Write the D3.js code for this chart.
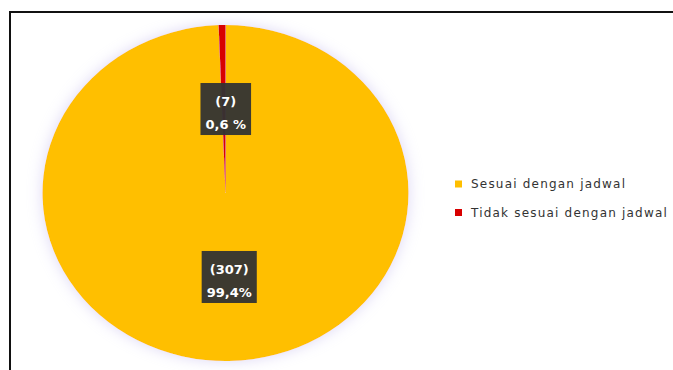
<!DOCTYPE html>
<html>
<head>
<meta charset="utf-8">
<script src="https://cdn.jsdelivr.net/npm/d3@7"></script>
<style>
  html, body { margin: 0; padding: 0; background: #ffffff; }
  svg { display: block; }
</style>
</head>
<body>
<svg id="chart" width="673" height="370"></svg>
<script>
// Schedule compliance: counts and shares per category
const categories = ["Sesuai dengan jadwal", "Tidak sesuai dengan jadwal"];
const counts = [307, 7];
const percents = [99.4, 0.6];
const percentLabels = ["99,4%", "0,6 %"];
const colors = ["#FFBF00", "#D80000"];

const W = 673, H = 370;
const svg = d3.select("#chart");

// frame lines along the top and left edges
svg.append("line").attr("x1", 10).attr("y1", 12).attr("x2", W).attr("y2", 12)
  .attr("stroke", "#111").attr("stroke-width", 2);
svg.append("line").attr("x1", 10).attr("y1", 11).attr("x2", 10).attr("y2", H)
  .attr("stroke", "#111").attr("stroke-width", 2);

// soft halo around the pie
const defs = svg.append("defs");
const f = defs.append("filter").attr("id", "halo")
  .attr("x", "-20%").attr("y", "-20%").attr("width", "140%").attr("height", "140%");
f.append("feDropShadow").attr("dx", 0).attr("dy", 0).attr("stdDeviation", 7)
  .attr("flood-color", "#b4a8e8").attr("flood-opacity", 0.45);

const cx = 225.5, cy = 193, rx = 183, ry = 168;
const data = categories.map((c, i) => ({ name: c, count: counts[i], pct: percents[i], label: percentLabels[i], color: colors[i] }));

const pie = d3.pie().sort(null).value(d => d.pct).startAngle(0).endAngle(2 * Math.PI);
const arcs = pie(data);
const arc = d3.arc().innerRadius(0).outerRadius(ry);

const g = svg.append("g")
  .attr("transform", `translate(${cx},${cy}) scale(${rx / ry},1)`)
  .attr("filter", "url(#halo)");
g.selectAll("path").data(arcs).join("path")
  .attr("d", arc)
  .attr("fill", d => d.data.color);

// value labels in dark boxes
const lab = svg.append("g");
arcs.forEach(a => {
  const [x0, y0] = arc.centroid(a);
  const x = cx + x0 * rx / ry + 2, y = cy + y0;
  const t = lab.append("g").attr("transform", `translate(${x},${y})`);
  const rect = t.append("rect").attr("fill", "#333333").attr("fill-opacity", 0.95);
  const txt = t.append("text")
    .attr("text-anchor", "middle")
    .attr("font-family", "DejaVu Sans, sans-serif")
    .attr("font-size", 13)
    .attr("font-weight", "bold")
    .attr("fill", "#ffffff");
  txt.append("tspan").attr("x", 0).attr("y", -3).text(`(${a.data.count})`);
  txt.append("tspan").attr("x", 0).attr("y", 20).text(a.data.label);
  const bb = txt.node().getBBox();
  rect.attr("x", bb.x - 5).attr("y", -26).attr("width", bb.width + 10).attr("height", 52);
});

// legend
const legend = svg.append("g").attr("transform", "translate(455,184)");
const items = legend.selectAll("g").data(data).join("g")
  .attr("transform", (d, i) => `translate(0,${i * 28.5})`);
items.append("rect").attr("x", 0).attr("y", -3.5).attr("width", 7).attr("height", 7)
  .attr("fill", d => d.color);
items.append("text")
  .attr("x", 16).attr("y", 0).attr("dy", "0.35em")
  .attr("font-family", "DejaVu Sans, sans-serif")
  .attr("font-size", 12)
  .attr("letter-spacing", 1.2)
  .attr("fill", "#333")
  .text(d => d.name);
</script>
</body>
</html>
